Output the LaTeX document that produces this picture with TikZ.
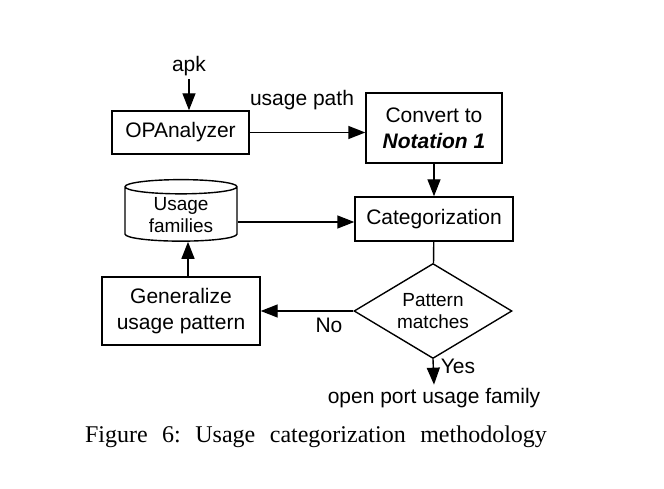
\documentclass[tikz,border=0pt]{standalone}
\usepackage{fontspec}
\setmainfont{Liberation Sans}
\newfontfamily\captionfont{Liberation Serif}
\newcommand\capspacing{\spaceskip=14.5pt\relax\xspaceskip=14.5pt\relax}
\usetikzlibrary{arrows.meta,shapes.geometric}
\begin{document}
\begin{tikzpicture}[x=1pt,y=-1pt,
    every node/.style={font=\fontsize{21}{26}\selectfont},
    smalltext/.style={font=\fontsize{19}{22}\selectfont},
    stepbox/.style={rectangle,draw,line width=1.4pt,align=center},
    flowarrow/.style={-{Triangle[length=17pt,width=13pt]},line width=1.4pt}]
  \useasboundingbox (0,0) rectangle (664,489);
  \node (apk) at (189,66) {apk};
  \node[stepbox,minimum height=43pt,minimum width=137pt] (opa) at
  (180.5,132.5) {OPAnalyzer};
  \node[stepbox,minimum height=70pt,minimum width=136pt] (conv) at
  (434,128) {Convert to\\\textbf{\textit{Notation 1}}};
  \node[stepbox,minimum height=44pt,minimum width=158pt] (cat) at
  (434,219) {Categorization};
  \node[cylinder,draw,line width=1.4pt,shape border rotate=90,aspect=0.2,
  minimum height=55pt,minimum width=112pt,align=center,smalltext] (fam) at
  (181,215.5) {Usage\\families};
  \node[stepbox,minimum height=68pt,minimum width=158pt] (gen) at
  (181,311) {Generalize\\usage pattern};
  \node[diamond,draw,line width=1.4pt,aspect=1.66,inner sep=0pt,
  minimum height=95pt,minimum width=158pt,align=center,smalltext] (match) at
  (433,311) {Pattern\\matches};
  \node (out) at (434,398) {open port usage family};
  \node (path) at (302,100) {usage path};
  \node (no) at (329,325) {No};
  \node (yes) at (458,366) {Yes};
  \draw[flowarrow] (apk) to (apk |- opa.north);
  \draw[flowarrow] (opa.east) to (conv.west |- opa.east);
  \draw[flowarrow] (conv) to (cat);
  \draw[flowarrow] (fam.east |- 0,222) to (cat.west |- 0,222);
  \draw[line width=1.4pt] (cat) to (match);
  \draw[flowarrow] (match.west) to (gen.east);
  \draw[flowarrow] ([xshift=7pt]gen.north) to ([xshift=7pt]gen.north |- fam.south);
  \draw[flowarrow] (match.south) to (out.north);
  \node[font=\captionfont\fontsize{24}{28}\selectfont] (caption) at (316,437)
  {\capspacing Figure 6: Usage categorization methodology};
\end{tikzpicture}
\end{document}
